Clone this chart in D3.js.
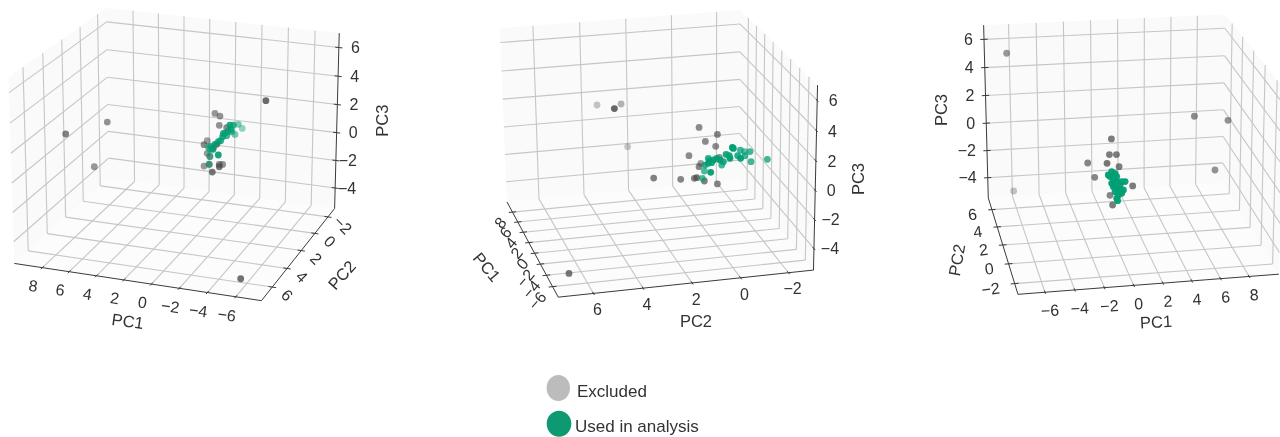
<!DOCTYPE html>
<html><head><meta charset="utf-8">
<script src="https://cdn.jsdelivr.net/npm/d3@7"></script>
<style>html,body{margin:0;background:#fff}svg{display:block}text{font-family:"Liberation Sans",Arial,sans-serif;fill:#333}</style>
</head><body>
<svg id="c" width="1280" height="437"></svg>
<script>
// ---- axis ticks ----
const pc1Ticks = [8, 6, 4, 2, 0, -2, -4, -6];
const pc2Ticks = [6, 4, 2, 0, -2];
const pc3Ticks = [6, 4, 2, 0, -2, -4];
const pc1Range = [-7.8, 10.1];
const pc2Range = [-3.05, 7.41];
const pc3Range = [-5.5, 7];
const legendLabels = ["Excluded", "Used in analysis"];

// ---- readings per view: [across, PC3-up, depth shade 0..1] (relative to the cluster centre) ----
const view1Excluded = [[-3.40,2.93,.95],[7.93,1.40,.6],[10.90,.55,.75],[8.86,-1.79,.55],[-1.60,-9.79,.9],[.24,2.02,.55],[-.12,1.83,.6],[-.07,1.17,.6],[-.60,1.00,.65],[.79,.07,.5],[1.02,-.21,.65],[.79,-.83,.55],[.60,-1.07,.6],[1.02,-1.74,.55],[.64,-1.62,.7],[-.07,-1.62,.7],[-.31,-1.62,.6],[-.07,-1.79,.85],[.43,-2.17,.85],[.12,-.19,.9],[.36,-.48,.8]];
const view1Used = [[-.83,1.19,.9],[-1.07,1.19,.75],[-1.43,1.24,.4],[-1.71,.95,.25],[-1.19,.52,.4],[-.90,.88,.8],[-.48,.60,.8],[-.31,.36,.85],[-.36,.60,.8],[-.60,.43,.7],[-.17,.07,.8],[0,0,.85],[.24,-.19,.8],[.55,-.31,.7],[.40,-.55,.8],[.71,-.40,.45],[.60,-.52,.6],[0,-.95,.95],[.67,-1.60,.45],[.60,-1.02,.4],[-.71,.76,.7],[-.95,.71,.6]];

const view2Excluded = [[8.55,3.93,.15],[7.31,3.67,1],[6.83,4.00,.3],[6.36,.95,.12],[10.55,-8.10,.85],[4.50,-1.29,.75],[2.57,-1.38,.7],[1.60,-1.31,.7],[1.43,-1.26,.85],[1.26,2.33,.65],[.81,1.33,.65],[-.05,1.83,.7],[.07,.98,.65],[1.98,.31,.65],[1.26,-.48,.7],[1.14,-.24,.5],[.88,-1.50,.75],[-.05,-1.71,.7],[-.19,.19,.6]];
const view2Used = [[-1.12,.90,1],[-1.19,.83,1],[-1.69,.71,.7],[-1.98,.60,.55],[-2.38,.60,.7],[-2.02,.31,.7],[-1.71,.12,1],[-1.50,.31,.85],[-2.45,-.12,.7],[-3.62,.05,.7],[-.95,.12,1],[-.90,.31,.9],[-.67,.40,.9],[-.36,-.36,.7],[-.24,0,.95],[0,.12,.9],[.24,0,.9],[.60,.12,.8],[.60,-.24,.9],[.36,-.19,.9],[.83,-.36,.8],[.52,-.07,.9],[-.48,-.12,.85],[.88,-.79,.65],[.43,-.88,1],[1.02,-1.31,.65]];

const view3Excluded = [[-7.86,9.29,.55],[-7.36,-.55,.15],[5.55,4.79,.65],[7.95,4.50,.6],[7.02,.95,.6],[-.38,3.17,.8],[-.52,2.05,.8],[-.02,2.05,.8],[-2.07,1.45,.7],[-.69,1.43,.85],[.17,1.19,.8],[-1.57,.43,.7],[1.14,-.19,.8],[-.48,-.86,.7],[-.29,-1.55,.8]];
const view3Used = [[-.60,.60,1],[-.36,.83,1],[-.12,.71,1],[-.48,.48,1],[0,.48,1],[.60,.12,1],[.36,.12,1],[-.24,.24,1],[0,.12,1],[-.36,0,1],[-.12,-.12,1],[.24,-.12,1],[0,-.36,1],[.48,-.48,1],[-.24,-.24,1],[.24,-.48,1],[-.12,-.60,1],[.12,-.83,1],[.36,-.71,1],[0,-1.07,1],[.07,-1.24,1]];

// ---- camera anchors for each view: box corner (PC1 end, PC2 end, PC3 end) -> screen ----
const views = [
 {excluded:view1Excluded, used:view1Used, flip:-1, centre:[218.3,141.7], pxPerUnit:14, walls:[1,0], axes:{pc1y:1,pc2x:0,pc3:[0,0]},
  corners:[[1,0,0,108.3,177.7],[0,0,0,335,208.3],[1,1,0,15,264],[0,1,0,261,300.7],[1,0,1,106.7,8.3],[0,0,1,339.3,33.3],[1,1,1,8.3,76.7]],
  pc1L:{dx:-9,dy:18,rot:8,anchor:"middle"}, pc2L:{dx:15,dy:8,rot:45,anchor:"middle"}, pc3L:{dx:21,dy:0,rot:0,anchor:"end"},
  titles:[[127.7,321,8],[341.7,275,-48],[381.7,120.7,-90]]},
 {excluded:view2Excluded, used:view2Used, flip:-1, centre:[716.7,160], pxPerUnit:14, walls:[1,0], axes:{pc1y:1,pc2x:0,pc3:[0,0]},
  corners:[[1,1,0,506.7,201.7],[1,1,1,500,28.3],[1,0,0,740,180],[1,0,1,739.3,10],[0,1,0,558.3,297.3],[0,0,0,812.7,270],[0,0,1,818.3,85]],
  pc1L:{dx:-9.5,dy:7,rot:-50,anchor:"end"}, pc2L:{dx:4,dy:16,rot:0,anchor:"middle"}, pc3L:{dx:16,dy:0,rot:0,anchor:"middle"},
  titles:[[487,267,50],[696,320.7,0],[858.3,179,-90]]},
 {excluded:view3Excluded, used:view3Used, flip:1, centre:[1116.7,183.3], pxPerUnit:14, walls:[1,1], axes:{pc1y:0,pc2x:0,pc3:[0,1]},
  corners:[[0,1,0,988.3,198.3],[0,1,1,983.3,25],[1,1,0,1221.7,181.7],[1,1,1,1226,15],[0,0,0,1018.3,294],[1,0,0,1279.3,275],[1,0,1,1283,88]],
  pc1L:{dx:5,dy:18,rot:-3,anchor:"middle"}, pc2L:{dx:-15,dy:4,rot:-7,anchor:"end"}, pc3L:{dx:-11,dy:0,rot:0,anchor:"end"},
  titles:[[1156,321.7,-3],[956.7,260,-80],[940.7,110,-90]]}
];

// ---- scales ----
const sx = d3.scaleLinear().domain(pc1Range).range([0,1]);
const sy = d3.scaleLinear().domain(pc2Range).range([0,1]);
const sz = d3.scaleLinear().domain(pc3Range).range([0,1]);
const shade = d3.scaleLinear().domain([0,1]).range([.22,.85]);
const shadeUsed = d3.scaleLinear().domain([0,1]).range([.25,.95]);

function solve(A,b){
  const n=b.length, M=A.map((r,i)=>[...r,b[i]]);
  for(let i=0;i<n;i++){
    let p=i; for(let k=i+1;k<n;k++) if(Math.abs(M[k][i])>Math.abs(M[p][i])) p=k;
    [M[i],M[p]]=[M[p],M[i]];
    for(let k=i+1;k<n;k++){const f=M[k][i]/M[i][i]; for(let j=i;j<=n;j++) M[k][j]-=f*M[i][j];}
  }
  const x=Array(n).fill(0);
  for(let i=n-1;i>=0;i--){let s=M[i][n]; for(let j=i+1;j<n;j++) s-=M[i][j]*x[j]; x[i]=s/M[i][i];}
  return x;
}
function fitCamera(corners){
  const rows=[],rhs=[];
  corners.forEach(([X,Y,Z,u,v])=>{
    rows.push([X,Y,Z,1,0,0,0,0,-u*X,-u*Y,-u*Z]); rhs.push(u);
    rows.push([0,0,0,0,X,Y,Z,1,-v*X,-v*Y,-v*Z]); rhs.push(v);
  });
  const n=11, ATA=d3.range(n).map(i=>d3.range(n).map(j=>d3.sum(rows,r=>r[i]*r[j])));
  const ATb=d3.range(n).map(i=>d3.sum(rows,(r,k)=>r[i]*rhs[k]));
  const p=solve(ATA,ATb);
  return (X,Y,Z)=>{const w=p[8]*X+p[9]*Y+p[10]*Z+1;
    return [(p[0]*X+p[1]*Y+p[2]*Z+p[3])/w,(p[4]*X+p[5]*Y+p[6]*Z+p[7])/w];};
}

const svg=d3.select("#c");
svg.append("defs").append("filter").attr("id","soft").attr("x","-5%").attr("y","-5%").attr("width","110%").attr("height","110%")
  .append("feGaussianBlur").attr("stdDeviation",0.55);
const root=svg.append("g").attr("filter","url(#soft)");

views.forEach(v=>{
  const P=fitCamera(v.corners), g=root.append("g");
  const [wx,wy]=v.walls;
  const poly=pts=>pts.map(q=>P(...q).join(",")).join(" ");
  [[[wx,0,0],[wx,1,0],[wx,1,1],[wx,0,1]],[[0,wy,0],[1,wy,0],[1,wy,1],[0,wy,1]],[[0,0,0],[1,0,0],[1,1,0],[0,1,0]]]
    .forEach((f,i)=>g.append("polygon").attr("points",poly(f)).attr("fill",i==2?"#fcfcfc":"#fafafa"));
  const seg=(a,b,col,w)=>{const A=P(...a),B=P(...b);
    g.append("line").attr("x1",A[0]).attr("y1",A[1]).attr("x2",B[0]).attr("y2",B[1]).attr("stroke",col).attr("stroke-width",w);};
  const GRID="#c6c6c6", AX="#3a3a3a", e=.015;
  pc1Ticks.forEach(t=>{const x=sx(t); seg([x,0,0],[x,1,0],GRID,1.1); seg([x,wy,0],[x,wy,1],GRID,1.1);});
  pc2Ticks.forEach(t=>{const y=sy(t); seg([0,y,0],[1,y,0],GRID,1.1); seg([wx,y,0],[wx,y,1],GRID,1.1);});
  pc3Ticks.forEach(t=>{const z=sz(t); seg([wx,0,z],[wx,1,z],GRID,1.1); seg([0,wy,z],[1,wy,z],GRID,1.1);});
  const a=v.axes;
  seg([0,a.pc1y,0],[1,a.pc1y,0],AX,1); seg([a.pc2x,0,0],[a.pc2x,1,0],AX,1); seg([a.pc3[0],a.pc3[1],0],[a.pc3[0],a.pc3[1],1],AX,1);
  const label=(pt,L,t)=>{const q=P(...pt);
    g.append("text").attr("transform",`translate(${q[0]+L.dx},${q[1]+L.dy}) rotate(${L.rot})`)
     .attr("text-anchor",L.anchor).attr("dy","0.36em").attr("font-size",16).text(String(t).replace("-","\u2212"));};
  const outY=a.pc1y?1:-1, outX=a.pc2x?1:-1, inX=a.pc3[0]?1:-1, inY=a.pc3[1]?1:-1;
  pc1Ticks.forEach(t=>{const x=sx(t); seg([x,a.pc1y-outY*e,0],[x,a.pc1y+outY*e,0],AX,1); label([x,a.pc1y,0],v.pc1L,t);});
  pc2Ticks.forEach(t=>{const y=sy(t); seg([a.pc2x-outX*e,y,0],[a.pc2x+outX*e,y,0],AX,1); label([a.pc2x,y,0],v.pc2L,t);});
  pc3Ticks.forEach(t=>{const z=sz(t); seg([a.pc3[0]-inX*e,a.pc3[1],z],[a.pc3[0]+inX*e,a.pc3[1],z],AX,1); label([a.pc3[0],a.pc3[1],z],v.pc3L,t);});
  ["PC1","PC2","PC3"].forEach((s,i)=>{const [x,y,r]=v.titles[i];
    g.append("text").attr("transform",`translate(${x},${y}) rotate(${r})`).attr("text-anchor","middle").attr("dy","0.36em").attr("font-size",16.5).text(s);});
  // readings -> screen
  const k=v.pxPerUnit*10;
  const h=d3.scaleLinear().domain([-10,10]).range(v.flip<0?[v.centre[0]+k,v.centre[0]-k]:[v.centre[0]-k,v.centre[0]+k]);
  const u=d3.scaleLinear().domain([-10,10]).range([v.centre[1]+k,v.centre[1]-k]);
  g.selectAll("c.e").data(v.excluded).join("circle").attr("cx",d=>h(d[0])).attr("cy",d=>u(d[1])).attr("r",3.4)
   .attr("fill","#4b4b4b").attr("fill-opacity",d=>shade(d[2]));
  g.selectAll("c.u").data(v.used).join("circle").attr("cx",d=>h(d[0])).attr("cy",d=>u(d[1])).attr("r",3.4)
   .attr("fill","#009e73").attr("fill-opacity",d=>shadeUsed(d[2]));
});

// legend
const lg=root.append("g");
lg.append("ellipse").attr("cx",558.3).attr("cy",388).attr("rx",11.7).attr("ry",13).attr("fill","#bcbcbc");
lg.append("ellipse").attr("cx",559).attr("cy",423.7).attr("rx",12.3).attr("ry",13).attr("fill","#0b9a73");
lg.append("text").attr("x",577).attr("y",397).attr("font-size",17).text(legendLabels[0]);
lg.append("text").attr("x",575).attr("y",432.3).attr("font-size",17).text(legendLabels[1]);
</script>
</body></html>
